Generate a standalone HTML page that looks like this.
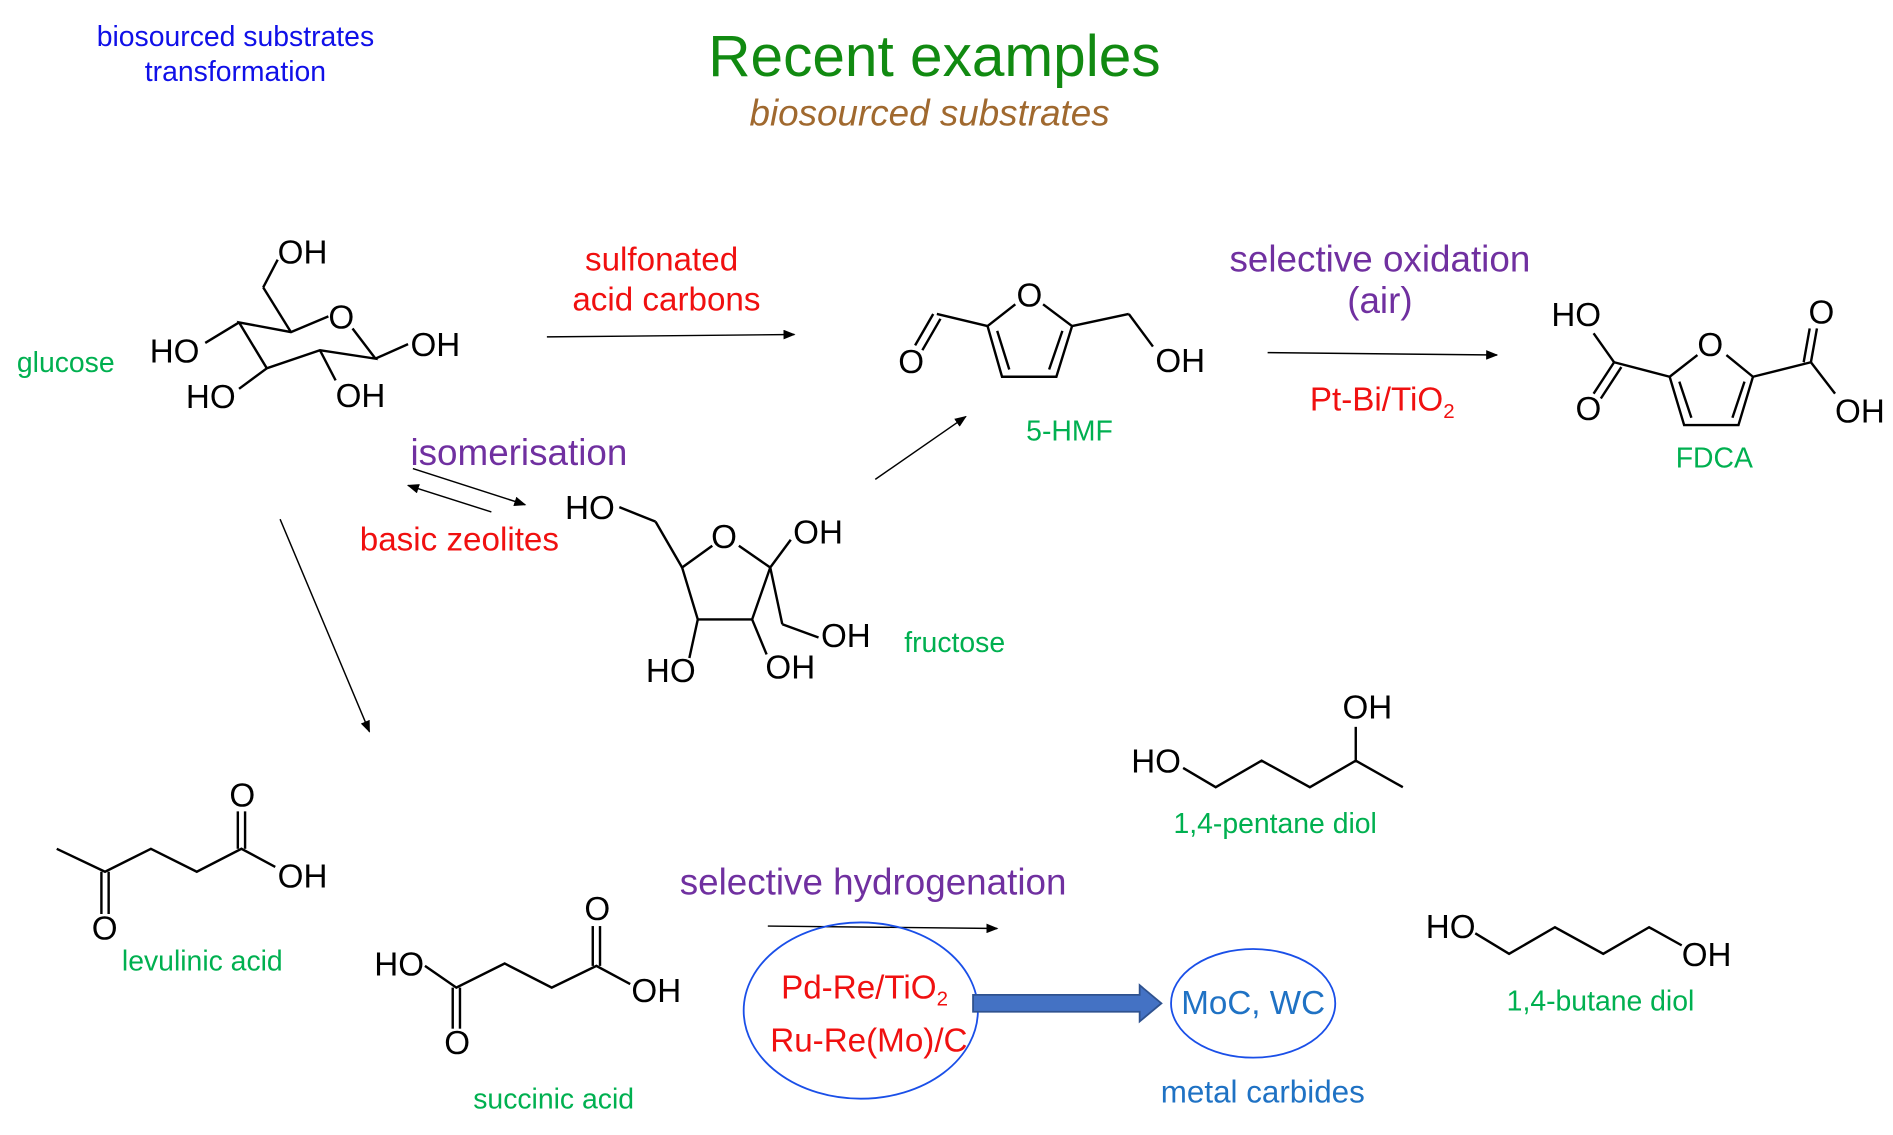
<!DOCTYPE html>
<html><head><meta charset="utf-8"><style>
html,body{margin:0;padding:0;background:#fff;}
svg{display:block;}
text{font-family:"Liberation Sans",Arial,sans-serif;}
.s text{font-size:27.5px;fill:#000;}
.g{font-size:23.5px;fill:#00b050;}
.r{font-size:27.5px;fill:#f01010;}
.p{font-size:30.5px;fill:#7030a0;}
</style></head><body>
<svg width="1893" height="1135" viewBox="0 0 1568 940" xmlns="http://www.w3.org/2000/svg">
<defs><marker id="a" markerWidth="10" markerHeight="8" refX="9" refY="4" orient="auto" markerUnits="userSpaceOnUse"><path d="M0,0 L10,4 L0,8z" fill="#000"/></marker></defs>
<text x="195" y="38" text-anchor="middle" font-size="23.5" fill="#1010e8">biosourced substrates</text>
<text x="195" y="67" text-anchor="middle" font-size="23.5" fill="#1010e8">transformation</text>
<text x="774" y="63" text-anchor="middle" font-size="48.5" fill="#118a11">Recent examples</text>
<text x="770" y="104" text-anchor="middle" font-size="30.5" font-style="italic" fill="#a0692f">biosourced substrates</text>

<g stroke="#000" stroke-width="2" fill="none">
<polyline points="272,262 241,275 198,267 221,305 265,290 311,297 292,272"/>
<line x1="241" y1="275" x2="218" y2="238"/><line x1="218" y1="238" x2="230" y2="215"/>
<line x1="198" y1="267" x2="170" y2="284"/><line x1="221" y1="305" x2="198" y2="322"/>
<line x1="265" y1="290" x2="278" y2="315"/><line x1="311" y1="297" x2="338" y2="285"/>
<line x1="513" y1="420" x2="543" y2="432"/><line x1="543" y1="432" x2="565" y2="470"/>
<polyline points="590,452 565,470 578,513 623,513 638,470 612,452"/>
<line x1="638" y1="470" x2="655" y2="447"/><line x1="638" y1="470" x2="648" y2="517"/><line x1="648" y1="517" x2="678" y2="528"/>
<line x1="578" y1="513" x2="571" y2="545"/><line x1="623" y1="513" x2="635" y2="542"/>
<line x1="758" y1="286" x2="773" y2="260"/><line x1="764" y1="290" x2="779" y2="264"/>
<line x1="776" y1="260" x2="818" y2="270"/>
<polyline points="841,252 818,270 830,312 875,312 888,270 864,252"/>
<line x1="826" y1="274" x2="836" y2="306"/><line x1="880" y1="274" x2="869" y2="306"/>
<line x1="888" y1="270" x2="935" y2="260"/><line x1="935" y1="260" x2="955" y2="287"/>
<polyline points="1406,294 1383,312 1395,352 1440,352 1452,312 1430,294"/>
<line x1="1391" y1="316" x2="1401" y2="346"/><line x1="1445" y1="316" x2="1435" y2="346"/>
<line x1="1383" y1="312" x2="1337" y2="300"/><line x1="1337" y1="300" x2="1320" y2="276"/>
<line x1="1337" y1="300" x2="1320" y2="326"/><line x1="1343" y1="304" x2="1326" y2="330"/>
<line x1="1452" y1="312" x2="1500" y2="300"/><line x1="1500" y1="300" x2="1505" y2="272"/><line x1="1494" y1="300" x2="1499" y2="272"/>
<line x1="1500" y1="300" x2="1520" y2="326"/>
<polyline points="47,703 87,722 125,703 163,722 200,703 228,718"/>
<line x1="84" y1="722" x2="84" y2="757"/><line x1="90" y1="722" x2="90" y2="757"/>
<line x1="197" y1="703" x2="197" y2="672"/><line x1="203" y1="703" x2="203" y2="672"/>
<polyline points="352,800 378,818 418,798 457,818 494,800 522,815"/>
<line x1="375" y1="818" x2="375" y2="852"/><line x1="381" y1="818" x2="381" y2="852"/>
<line x1="491" y1="800" x2="491" y2="767"/><line x1="497" y1="800" x2="497" y2="767"/>
<polyline points="980,636 1007,652 1045,630 1085,652 1123,630 1162,652"/>
<line x1="1123" y1="630" x2="1123" y2="602"/>
<polyline points="1222,773 1250,790 1288,768 1328,790 1366,768 1393,783"/>
</g>

<g stroke="#000" stroke-width="1.2" marker-end="url(#a)">
<line x1="453" y1="279" x2="658" y2="277"/>
<line x1="1050" y1="292" x2="1240" y2="294"/>
<line x1="725" y1="397" x2="800" y2="345"/>
<line x1="342" y1="388" x2="435" y2="418"/>
<line x1="407" y1="424" x2="338" y2="402"/>
<line x1="232" y1="430" x2="306" y2="606"/>
<line x1="636" y1="767" x2="826" y2="769"/>
</g>

<g class="s">
<text x="230" y="218">OH</text>
<text x="272" y="272">O</text>
<text x="340" y="295">OH</text>
<text x="124" y="300">HO</text>
<text x="154" y="338">HO</text>
<text x="278" y="337">OH</text>
<text x="468" y="430">HO</text>
<text x="589" y="454">O</text>
<text x="657" y="450">OH</text>
<text x="680" y="536">OH</text>
<text x="535" y="565">HO</text>
<text x="634" y="562">OH</text>
<text x="744" y="309">O</text>
<text x="842" y="254">O</text>
<text x="957" y="308">OH</text>
<text x="1285" y="270">HO</text>
<text x="1406" y="295">O</text>
<text x="1305" y="348">O</text>
<text x="1498" y="268">O</text>
<text x="1520" y="350">OH</text>
<text x="76" y="778">O</text>
<text x="190" y="668">O</text>
<text x="230" y="735">OH</text>
<text x="310" y="808">HO</text>
<text x="368" y="873">O</text>
<text x="484" y="762">O</text>
<text x="523" y="830">OH</text>
<text x="937" y="640">HO</text>
<text x="1112" y="595">OH</text>
<text x="1181" y="777">HO</text>
<text x="1393" y="800">OH</text>
</g>

<text class="g" x="14" y="308">glucose</text>
<text class="g" x="749" y="540">fructose</text>
<text class="g" x="850" y="365">5-HMF</text>
<text class="g" x="1388" y="387">FDCA</text>
<text class="g" x="101" y="804">levulinic acid</text>
<text class="g" x="392" y="918">succinic acid</text>
<text class="g" x="972" y="690">1,4-pentane diol</text>
<text class="g" x="1248" y="837">1,4-butane diol</text>

<text class="r" x="548" y="224" text-anchor="middle">sulfonated</text>
<text class="r" x="552" y="257" text-anchor="middle">acid carbons</text>
<text class="r" x="298" y="456">basic zeolites</text>
<text class="r" x="1085" y="340">Pt-Bi/TiO<tspan font-size="17" dy="6">2</tspan></text>
<text class="r" x="647" y="827">Pd-Re/TiO<tspan font-size="17" dy="6">2</tspan></text>
<text class="r" x="638" y="871">Ru-Re(Mo)/C</text>

<text class="p" x="340" y="385">isomerisation</text>
<text class="p" x="1143" y="225" text-anchor="middle">selective oxidation</text>
<text class="p" x="1143" y="259" text-anchor="middle">(air)</text>
<text class="p" x="563" y="741">selective hydrogenation</text>

<ellipse cx="713" cy="837" rx="97" ry="73" fill="none" stroke="#1a4fe8" stroke-width="1.5"/>
<ellipse cx="1038" cy="831" rx="68" ry="45" fill="none" stroke="#1a4fe8" stroke-width="1.5"/>
<path d="M806,824 L944,824 L944,816 L962,831 L944,846 L944,838 L806,838 Z" fill="#4472c4" stroke="#2f528f" stroke-width="1.5"/>
<text x="1038" y="840" text-anchor="middle" font-size="27.5" fill="#1f72c4">MoC, WC</text>
<text x="1046" y="913" text-anchor="middle" font-size="26" fill="#1f72c4">metal carbides</text>
</svg>
</body></html>
